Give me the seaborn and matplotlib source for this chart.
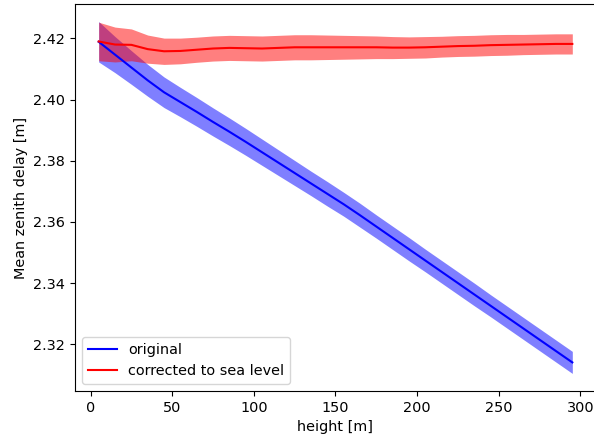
import numpy as np
import pandas as pd
import seaborn as sns
import matplotlib
matplotlib.use('Agg')
import matplotlib.pyplot as plt

heights = [5, 15, 25, 35, 45, 55, 65, 75, 85, 95,
           105, 115, 125, 135, 145, 155, 165, 175, 185, 195,
           205, 215, 225, 235, 245, 255, 265, 275, 285, 295]

orig_mean = [2.4189, 2.4147, 2.4105, 2.4063, 2.4024, 2.3992, 2.3960, 2.3927, 2.3895, 2.3862,
             2.3828, 2.3794, 2.3760, 2.3726, 2.3692, 2.3658, 2.3622, 2.3585, 2.3548, 2.3511,
             2.3474, 2.3437, 2.3400, 2.3363, 2.3326, 2.3289, 2.3252, 2.3215, 2.3178, 2.3141]
orig_std = [0.0066, 0.0059, 0.0055, 0.0052, 0.0050, 0.0048, 0.0047, 0.0046, 0.0045, 0.0044,
            0.0043, 0.0042, 0.0041, 0.0040, 0.0040, 0.0039, 0.0039, 0.0038, 0.0038, 0.0038,
            0.0037, 0.0037, 0.0037, 0.0037, 0.0036, 0.0036, 0.0036, 0.0036, 0.0036, 0.0036]

corr_mean = [2.4190, 2.4180, 2.4179, 2.4165, 2.4158, 2.4159, 2.4163, 2.4167, 2.4169, 2.4168,
             2.4167, 2.4169, 2.4171, 2.4171, 2.4171, 2.4171, 2.4171, 2.4171, 2.4170, 2.4170,
             2.4171, 2.4173, 2.4175, 2.4176, 2.4178, 2.4179, 2.4180, 2.4181, 2.4182, 2.4182]
corr_std = [0.0063, 0.0057, 0.0052, 0.0046, 0.0043, 0.0042, 0.0041, 0.0041, 0.0041, 0.0041,
            0.0041, 0.0041, 0.0041, 0.0041, 0.0040, 0.0039, 0.0038, 0.0037, 0.0036, 0.0035,
            0.0035, 0.0034, 0.0034, 0.0034, 0.0034, 0.0034, 0.0033, 0.0033, 0.0033, 0.0033]

df = pd.DataFrame({'height': heights,
                   'orig': orig_mean, 'orig_std': orig_std,
                   'corr': corr_mean, 'corr_std': corr_std})

plt.rcParams['font.size'] = 10.4

fig = plt.figure(figsize=(5.94, 4.43), dpi=100)
ax = fig.add_axes([75/594, 52/443, 521/594, 387/443])

sns.lineplot(data=df, x='height', y='orig', color='blue', label='original', ax=ax)
ax.fill_between(df['height'], df['orig'] - df['orig_std'], df['orig'] + df['orig_std'],
                color='blue', alpha=0.5, linewidth=0)
sns.lineplot(data=df, x='height', y='corr', color='red', label='corrected to sea level', ax=ax)
ax.fill_between(df['height'], df['corr'] - df['corr_std'], df['corr'] + df['corr_std'],
                color='red', alpha=0.5, linewidth=0)

ax.set_xlabel('height [m]')
ax.set_ylabel('Mean zenith delay [m]')
ax.legend(loc='lower left')
# the reference is cropped just before its right spine
ax.spines['right'].set_visible(False)

fig.savefig('out.png', dpi=100)
